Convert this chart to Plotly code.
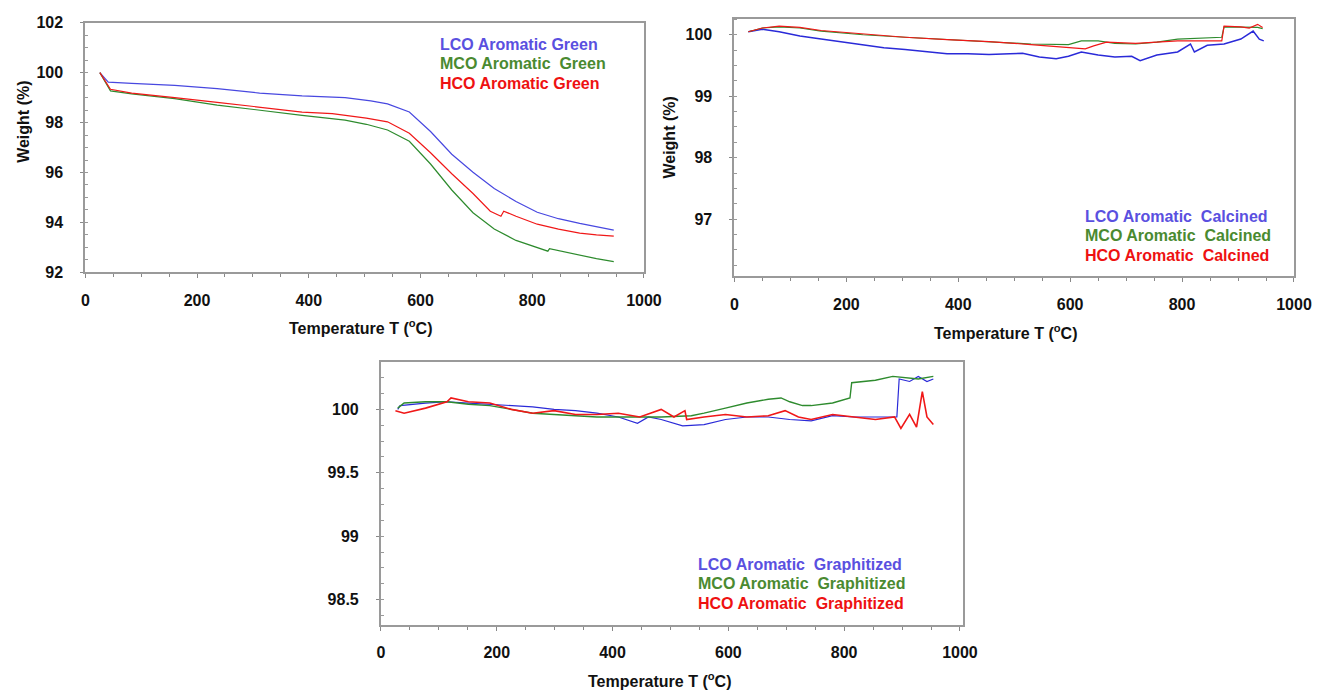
import plotly.graph_objects as go

# ---------------- Data ----------------
# Panel 1: Green
green_lco_T = [26, 41, 83, 160, 236, 312, 388, 465, 511, 541, 580, 618, 656, 694, 732, 771, 809, 847, 885, 915, 946]
green_lco_W = [100.0, 99.62, 99.57, 99.49, 99.36, 99.18, 99.07, 99.0, 98.87, 98.75, 98.42, 97.64, 96.73, 96.01, 95.36, 94.84, 94.41, 94.15, 93.96, 93.82, 93.69]
green_mco_T = [26, 45, 83, 160, 236, 312, 388, 465, 503, 541, 580, 618, 656, 694, 732, 771, 809, 828, 831, 885, 915, 946]
green_mco_W = [100.0, 99.27, 99.15, 98.96, 98.7, 98.48, 98.29, 98.1, 97.93, 97.7, 97.25, 96.34, 95.3, 94.39, 93.74, 93.28, 92.98, 92.85, 92.95, 92.69, 92.55, 92.43]
green_hco_T = [26, 45, 83, 121, 160, 236, 312, 388, 442, 503, 541, 580, 618, 656, 694, 725, 744, 749, 771, 809, 847, 885, 915, 946]
green_hco_W = [100.0, 99.33, 99.18, 99.1, 99.0, 98.81, 98.61, 98.42, 98.36, 98.18, 98.03, 97.57, 96.79, 95.95, 95.16, 94.45, 94.25, 94.45, 94.25, 93.93, 93.73, 93.57, 93.5, 93.45]

# Panel 2: Calcined
calc_lco_T = [25, 50, 80, 117, 155, 192, 230, 267, 305, 342, 380, 417, 455, 492, 515, 545, 575, 597, 620, 650, 680, 710, 725, 755, 792, 815, 822, 845, 875, 905, 927, 938, 946]
calc_lco_W = [100.05, 100.09, 100.05, 99.98, 99.93, 99.88, 99.83, 99.79, 99.76, 99.72, 99.69, 99.69, 99.68, 99.69, 99.7, 99.64, 99.61, 99.65, 99.72, 99.67, 99.64, 99.65, 99.58, 99.67, 99.72, 99.85, 99.72, 99.83, 99.85, 99.93, 100.06, 99.93, 99.9]
calc_mco_T = [25, 50, 80, 117, 155, 230, 305, 380, 455, 530, 597, 620, 650, 680, 717, 755, 792, 871, 875, 905, 935, 944]
calc_mco_W = [100.05, 100.11, 100.13, 100.11, 100.06, 100.0, 99.96, 99.92, 99.89, 99.85, 99.84, 99.9, 99.9, 99.86, 99.85, 99.88, 99.93, 99.96, 100.13, 100.12, 100.12, 100.1]
calc_hco_T = [25, 50, 80, 117, 155, 230, 305, 380, 455, 530, 575, 605, 627, 642, 665, 717, 792, 871, 875, 905, 920, 935, 944]
calc_hco_W = [100.05, 100.11, 100.14, 100.12, 100.07, 100.01, 99.96, 99.92, 99.89, 99.84, 99.81, 99.79, 99.77, 99.82, 99.88, 99.86, 99.9, 99.9, 100.14, 100.13, 100.11, 100.17, 100.12]

# Panel 3: Graphitized
graph_lco_T = [29, 33, 77, 114, 151, 188, 225, 262, 299, 336, 373, 410, 443, 462, 484, 521, 558, 595, 632, 669, 706, 743, 780, 817, 854, 891, 895, 913, 928, 943, 954]
graph_lco_W = [100.0, 100.03, 100.05, 100.06, 100.05, 100.04, 100.03, 100.02, 100.0, 99.99, 99.97, 99.94, 99.89, 99.94, 99.92, 99.87, 99.88, 99.92, 99.94, 99.94, 99.92, 99.91, 99.95, 99.94, 99.94, 99.94, 100.24, 100.22, 100.26, 100.22, 100.24]
graph_mco_T = [29, 40, 77, 114, 151, 188, 225, 262, 299, 336, 373, 410, 484, 536, 558, 595, 632, 669, 691, 706, 728, 743, 780, 810, 813, 854, 884, 928, 954]
graph_mco_W = [100.01, 100.05, 100.06, 100.06, 100.04, 100.03, 100.0, 99.97, 99.96, 99.95, 99.94, 99.94, 99.94, 99.95, 99.97, 100.01, 100.05, 100.08, 100.09, 100.06, 100.03, 100.03, 100.05, 100.09, 100.21, 100.23, 100.26, 100.24, 100.26]
graph_hco_T = [25, 40, 77, 114, 121, 151, 188, 225, 262, 299, 336, 373, 410, 447, 484, 506, 525, 528, 558, 595, 632, 669, 698, 721, 743, 780, 817, 854, 887, 898, 913, 925, 935, 943, 954]
graph_hco_W = [99.99, 99.97, 100.01, 100.06, 100.09, 100.06, 100.05, 100.0, 99.97, 99.99, 99.96, 99.96, 99.97, 99.94, 100.0, 99.94, 99.99, 99.92, 99.94, 99.96, 99.94, 99.95, 99.99, 99.94, 99.92, 99.96, 99.94, 99.92, 99.94, 99.85, 99.96, 99.86, 100.14, 99.94, 99.88]

legend_green = ["LCO Aromatic Green", "MCO Aromatic  Green", "HCO Aromatic Green"]
legend_calc = ["LCO Aromatic  Calcined", "MCO Aromatic  Calcined", "HCO Aromatic  Calcined"]
legend_graph = ["LCO Aromatic  Graphitized", "MCO Aromatic  Graphitized", "HCO Aromatic  Graphitized"]

# ---------------- Styles ----------------
FONT = "Liberation Sans, Arial, sans-serif"
LINE_BLUE = "#2a2ad8"
LINE_GREEN = "#2e8b2e"
LINE_RED = "#f01818"
TXT_BLUE = "#5a50e0"
TXT_GREEN = "#4a8a30"
TXT_RED = "#ee1111"

fig = go.Figure()

def add(T, Wt, color, xa, ya, width=1.2):
    fig.add_trace(go.Scatter(x=T, y=Wt, mode="lines", line=dict(color=color, width=width),
                             xaxis=xa, yaxis=ya, showlegend=False, hoverinfo="skip"))

add(green_lco_T, green_lco_W, "#4848e0", "x", "y")
add(green_mco_T, green_mco_W, LINE_GREEN, "x", "y")
add(green_hco_T, green_hco_W, LINE_RED, "x", "y")

add(calc_lco_T, calc_lco_W, LINE_BLUE, "x2", "y2", 1.5)
add(calc_mco_T, calc_mco_W, LINE_GREEN, "x2", "y2")
add(calc_hco_T, calc_hco_W, LINE_RED, "x2", "y2")

add(graph_lco_T, graph_lco_W, LINE_BLUE, "x3", "y3")
add(graph_mco_T, graph_mco_W, LINE_GREEN, "x3", "y3", 1.4)
add(graph_hco_T, graph_hco_W, LINE_RED, "x3", "y3", 1.6)

W, H = 1329, 699

def xaxis_cfg(x0, x1, anchor, rng):
    return dict(domain=[x0 / W, x1 / W], anchor=anchor, range=rng,
                tickvals=[0, 200, 400, 600, 800, 1000], ticks="outside", ticklen=4,
                tickcolor="#888", showline=True, linecolor="#9a9a9a", linewidth=2, mirror=True,
                showgrid=False, zeroline=False, ticklabelstandoff=8,
                minor=dict(dtick=50, ticks="outside", ticklen=3, tickcolor="#888"),
                tickfont=dict(family=FONT, size=16, color="#111", weight="bold"))

def yaxis_cfg(y_top, y_bottom, anchor, rng, tickvals, ticktext, minor_dtick):
    return dict(domain=[1 - y_bottom / H, 1 - y_top / H], anchor=anchor, range=rng,
                tickvals=tickvals, ticktext=ticktext, ticks="outside", ticklen=3,
                tickcolor="#888", showline=True, linecolor="#9a9a9a", linewidth=2, mirror=True,
                showgrid=False, zeroline=False, ticklabelstandoff=14,
                minor=dict(dtick=minor_dtick, ticks="inside", ticklen=3, tickcolor="#999"),
                tickfont=dict(family=FONT, size=16, color="#111", weight="bold"))

fig.update_layout(
    width=W, height=H, margin=dict(l=0, r=0, t=0, b=0),
    paper_bgcolor="white", plot_bgcolor="white",
    xaxis=xaxis_cfg(82.7, 650.7, "y", [0, 1000]),
    yaxis=yaxis_cfg(15, 271, "x", [92, 102], [92, 94, 96, 98, 100, 102],
                    ["92", "94", "96", "98", "100", "102"], 0.5),
    xaxis2=xaxis_cfg(742.7, 1311.7, "y2", [0, 1000]),
    yaxis2=yaxis_cfg(11.7, 275, "x2", [96.07, 100.25], [97, 98, 99, 100],
                     ["97", "98", "99", "100"], 0.25),
    xaxis3=xaxis_cfg(383.3, 975, "y3", [0, 1005]),
    yaxis3=yaxis_cfg(363.3, 632.3, "x3", [98.3, 100.37], [98.5, 99, 99.5, 100],
                     ["98.5", "99", "99.5", "100"], 0.125),
)

ann = []
def text(x, y, s, color="#111", size=16, xanchor="left", angle=0):
    ann.append(dict(x=x / W, y=1 - y / H, xref="paper", yref="paper", text=s, showarrow=False,
                    xanchor=xanchor, yanchor="middle", textangle=angle,
                    font=dict(family=FONT, size=size, color=color, weight="bold")))

# legends
for (lbl, c, yy) in zip(legend_green, [TXT_BLUE, TXT_GREEN, TXT_RED], [37, 57, 77]):
    text(441.5, yy, lbl, c)
for (lbl, c, yy) in zip(legend_calc, [TXT_BLUE, TXT_GREEN, TXT_RED], [213.3, 233.3, 253.3]):
    text(1097, yy, lbl, c)
for (lbl, c, yy) in zip(legend_graph, [TXT_BLUE, TXT_GREEN, TXT_RED], [570, 590, 610.7]):
    text(704, yy, lbl, c)

# axis titles
xt = "Temperature T (<sup>o</sup>C)"
text(362, 327, xt, size=16, xanchor="center")
text(1018, 332, xt, size=16, xanchor="center")
text(667, 689, xt, size=16, xanchor="center")
text(19, 117, "Weight (%)", size=16, xanchor="center", angle=-90)
text(677, 133, "Weight (%)", size=16, xanchor="center", angle=-90)

fig.update_layout(annotations=ann)
fig.write_html("out.html")
